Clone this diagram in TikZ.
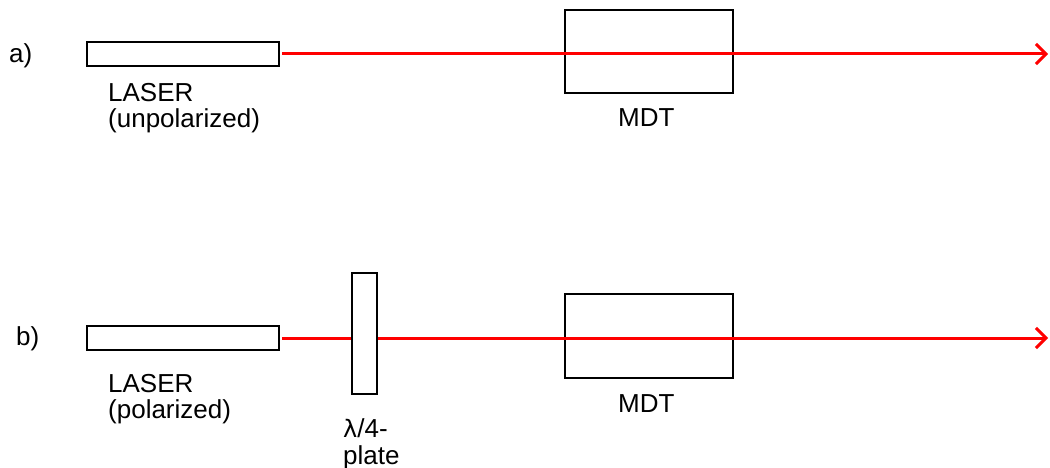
\documentclass[tikz,border=0pt]{standalone}
\usepackage{fontspec}
\setmainfont{Liberation Sans}
\usetikzlibrary{arrows.meta}
\begin{document}
\begin{tikzpicture}[x=1pt,y=-1pt,
  optic/.style={draw=black, line width=1.6pt, fill=white, inner sep=0pt, outer sep=0pt},
  beam/.style={draw=red, line width=3pt, shorten <=3pt,
    -{Straight Barb[length=10pt,width=20pt,line width=3pt]}},
  lbl/.style={inner sep=0pt, anchor=base west, font=\fontsize{26}{27}\selectfont}
]
\useasboundingbox (0,0) rectangle (1050,468);

% (a) unpolarized laser through the MDT
\node[lbl] (la) at (9,63) {a)};
\node[optic, minimum width=192pt, minimum height=24pt] (lasera) at (183,54) {};
\node[optic, minimum width=168pt, minimum height=83pt] (mdta) at (649,51.5) {};
\coordinate (enda) at (1048,54);
\draw[beam] (lasera.east) -- (enda);
\node[lbl] (lasertxta) at (108,102) {LASER};
\node[lbl] (lasertxta2) at (108,128) {(unpolarized)};
\node[lbl] (mdttxta) at (618,127) {MDT};

% (b) polarized laser, quarter-wave plate, MDT
\node[lbl] (lb) at (16,345) {b)};
\node[optic, minimum width=192pt, minimum height=24pt] (laserb) at (183,338) {};
\node[optic, minimum width=168pt, minimum height=84pt] (mdtb) at (649,336) {};
\coordinate (endb) at (1048,338);
\draw[beam] (laserb.east) -- (endb);
\node[optic, minimum width=25pt, minimum height=121pt] (plate) at (364.5,333.5) {};
\node[lbl] (lasertxtb) at (108,392) {LASER};
\node[lbl] (lasertxtb2) at (108,418) {(polarized)};
\node[lbl] (mdttxtb) at (618,412) {MDT};
\node[lbl] (platetxt) at (343,437) {\fontspec{DejaVu Sans}\fontsize{24}{27}\selectfont λ\fontspec{Liberation Sans}\fontsize{26}{27}\selectfont/4-};
\node[lbl] (platetxt2) at (343,464) {plate};
\end{tikzpicture}
\end{document}
